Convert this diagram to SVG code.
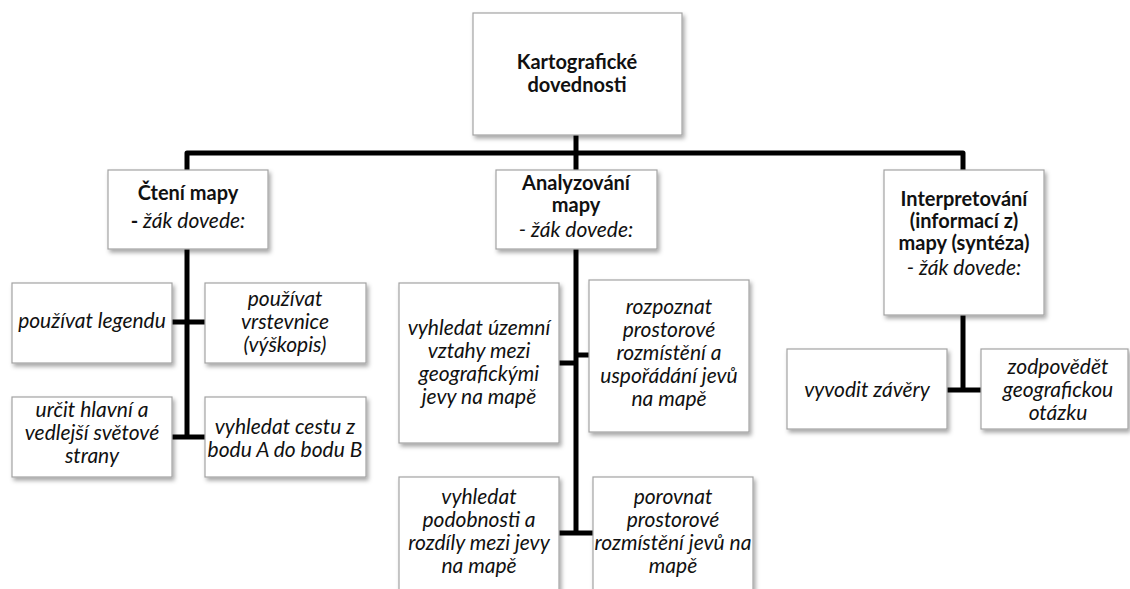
<svg xmlns="http://www.w3.org/2000/svg" width="1130" height="589" viewBox="0 0 1130 589">
  <defs>
    <filter id="shadow" x="-10%" y="-10%" width="125%" height="130%">
      <feDropShadow dx="2" dy="3" stdDeviation="2" flood-color="#000" flood-opacity="0.35"/>
    </filter>
  </defs>
  <style>
    .box { fill: #ffffff; stroke: #a3a3a3; stroke-width: 1.2; filter: url(#shadow); }
    .link { fill: none; stroke: #000000; stroke-width: 5; stroke-linejoin: round; }
    text { font-family: Lato, "Open Sans", "Liberation Sans", sans-serif; font-size: 21px; fill: #111111; text-anchor: middle; }
    .b { font-weight: bold; font-size: 20px; }
    .i { font-style: italic; }
  </style>
  <rect width="1130" height="589" fill="#ffffff"/>

  <!-- connectors -->
  <g id="connectors">
    <path class="link" d="M576,135 V153"/>
    <path class="link" d="M187,172 V153 H963 V172"/>
    <path class="link" d="M576,153 V172"/>
    <path class="link" d="M187,249 V437"/>
    <path class="link" d="M172,322 H205"/>
    <path class="link" d="M172,437 H205"/>
    <path class="link" d="M576,249 V533"/>
    <path class="link" d="M559,363 H576"/>
    <path class="link" d="M576,355 H589"/>
    <path class="link" d="M559,533 H593"/>
    <path class="link" d="M963,315 V390"/>
    <path class="link" d="M947,390 H981"/>
  </g>

  <!-- root -->
  <g id="root">
    <rect class="box" x="473" y="13" width="209" height="122"/>
    <text class="b" x="577" y="69">Kartografické</text>
    <text class="b" x="577" y="92">dovednosti</text>
  </g>

  <!-- reading -->
  <g id="cteni">
    <rect class="box" x="108" y="170" width="160" height="79"/>
    <text class="b" x="188" y="200">Čtení mapy</text>
    <text x="188" y="228"><tspan class="b">-</tspan><tspan class="i"> žák dovede:</tspan></text>
  </g>
  <g id="legenda">
    <rect class="box" x="12" y="283" width="160" height="80"/>
    <text class="i" x="92" y="328">používat legendu</text>
  </g>
  <g id="vrstevnice">
    <rect class="box" x="205" y="283" width="161" height="80"/>
    <text class="i" x="285" y="306">používat</text>
    <text class="i" x="285" y="329">vrstevnice</text>
    <text class="i" x="285" y="352">(výškopis)</text>
  </g>
  <g id="strany">
    <rect class="box" x="12" y="397" width="160" height="80"/>
    <text class="i" x="92" y="417">určit hlavní a</text>
    <text class="i" x="92" y="440">vedlejší světové</text>
    <text class="i" x="92" y="463">strany</text>
  </g>
  <g id="cesta">
    <rect class="box" x="205" y="397" width="161" height="80"/>
    <text class="i" x="285" y="434">vyhledat cestu z</text>
    <text class="i" x="285" y="457">bodu A do bodu B</text>
  </g>

  <!-- analysis -->
  <g id="analyzovani">
    <rect class="box" x="496" y="170" width="161" height="79"/>
    <text class="b" x="576" y="190">Analyzování</text>
    <text class="b" x="576" y="212">mapy</text>
    <text class="i" x="576" y="237">- žák dovede:</text>
  </g>
  <g id="vztahy">
    <rect class="box" x="399" y="283" width="160" height="160"/>
    <text class="i" x="479" y="335">vyhledat územní</text>
    <text class="i" x="479" y="358">vztahy mezi</text>
    <text class="i" x="479" y="381">geografickými</text>
    <text class="i" x="479" y="404">jevy na mapě</text>
  </g>
  <g id="rozpoznat">
    <rect class="box" x="589" y="280" width="160" height="152"/>
    <text class="i" x="669" y="314">rozpoznat</text>
    <text class="i" x="669" y="337">prostorové</text>
    <text class="i" x="669" y="360">rozmístění a</text>
    <text class="i" x="669" y="383">uspořádání jevů</text>
    <text class="i" x="669" y="406">na mapě</text>
  </g>
  <g id="podobnosti">
    <rect class="box" x="399" y="477" width="160" height="130"/>
    <text class="i" x="479" y="504">vyhledat</text>
    <text class="i" x="479" y="527">podobnosti a</text>
    <text class="i" x="479" y="550">rozdíly mezi jevy</text>
    <text class="i" x="479" y="573">na mapě</text>
  </g>
  <g id="porovnat">
    <rect class="box" x="593" y="477" width="160" height="130"/>
    <text class="i" x="673" y="504">porovnat</text>
    <text class="i" x="673" y="527">prostorové</text>
    <text class="i" x="673" y="550">rozmístění jevů na</text>
    <text class="i" x="673" y="573">mapě</text>
  </g>

  <!-- interpretation -->
  <g id="interpretovani">
    <rect class="box" x="884" y="170" width="160" height="145"/>
    <text class="b" x="964" y="206">Interpretování</text>
    <text class="b" x="964" y="228">(informací z)</text>
    <text class="b" x="964" y="250">mapy (syntéza)</text>
    <text class="i" x="964" y="275">- žák dovede:</text>
  </g>
  <g id="zavery">
    <rect class="box" x="787" y="349" width="160" height="80"/>
    <text class="i" x="867" y="397">vyvodit závěry</text>
  </g>
  <g id="otazka">
    <rect class="box" x="981" y="349" width="147" height="80"/>
    <text class="i" x="1058" y="374">zodpovědět</text>
    <text class="i" x="1058" y="397">geografickou</text>
    <text class="i" x="1058" y="420">otázku</text>
  </g>
</svg>
